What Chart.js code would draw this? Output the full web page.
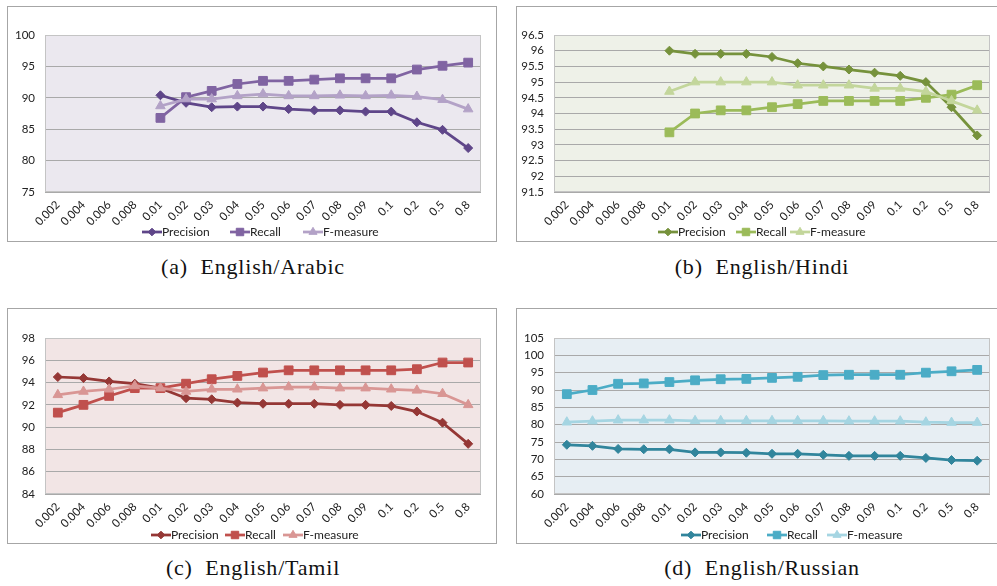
<!DOCTYPE html>
<html><head><meta charset="utf-8">
<script src="https://cdn.jsdelivr.net/npm/chart.js@4/dist/chart.umd.min.js"></script>
<style>
html,body{margin:0;padding:0;background:#fff;width:997px;height:586px;overflow:hidden;position:relative}
.frame{position:absolute;border:1px solid #a6a6a6;box-sizing:border-box;width:490px;height:236px;background:#fff}
.cw{position:absolute;width:488px;height:241px}
.cap{position:absolute;width:400px;text-align:center;font-family:"Liberation Serif","Times New Roman",serif;font-size:22px;letter-spacing:0.8px;color:#111;line-height:22px;white-space:pre}
</style></head><body>
<div class="frame" style="left:7px;top:6px"></div>
<div class="frame" style="left:516px;top:6px"></div>
<div class="frame" style="left:7px;top:308px"></div>
<div class="frame" style="left:516px;top:308px"></div>
<div class="cw" style="left:8px;top:7px"><canvas id="ca"></canvas></div>
<div class="cw" style="left:517px;top:7px"><canvas id="cb"></canvas></div>
<div class="cw" style="left:8px;top:309px"><canvas id="cc"></canvas></div>
<div class="cw" style="left:517px;top:309px"><canvas id="cd"></canvas></div>
<div class="cap" style="left:53px;top:256px">(a)  English/Arabic</div>
<div class="cap" style="left:562px;top:256px">(b)  English/Hindi</div>
<div class="cap" style="left:53px;top:557px">(c)  English/Tamil</div>
<div class="cap" style="left:562px;top:557px">(d)  English/Russian</div>
<script>
const categories = ["0.002","0.004","0.006","0.008","0.01","0.02","0.03","0.04","0.05","0.06","0.07","0.08","0.09","0.1","0.2","0.5","0.8"];
const seriesNames = ["Precision","Recall","F-measure"];

const arabicPrecision = [null,null,null,null,90.4,89.2,88.5,88.6,88.6,88.2,88.0,88.0,87.8,87.8,86.1,84.9,82.0];
const arabicRecall    = [null,null,null,null,86.8,90.1,91.1,92.2,92.7,92.7,92.9,93.1,93.1,93.1,94.5,95.1,95.6];
const arabicF         = [null,null,null,null,88.7,89.8,89.8,90.3,90.6,90.3,90.3,90.4,90.3,90.4,90.2,89.7,88.2];

const hindiPrecision = [null,null,null,null,96.0,95.9,95.9,95.9,95.8,95.6,95.5,95.4,95.3,95.2,95.0,94.2,93.3];
const hindiRecall    = [null,null,null,null,93.4,94.0,94.1,94.1,94.2,94.3,94.4,94.4,94.4,94.4,94.5,94.6,94.9];
const hindiF         = [null,null,null,null,94.7,95.0,95.0,95.0,95.0,94.9,94.9,94.9,94.8,94.8,94.7,94.4,94.1];

const tamilPrecision = [94.5,94.4,94.1,93.9,93.5,92.6,92.5,92.2,92.1,92.1,92.1,92.0,92.0,91.9,91.4,90.4,88.5];
const tamilRecall    = [91.3,92.0,92.8,93.5,93.5,93.9,94.3,94.6,94.9,95.1,95.1,95.1,95.1,95.1,95.2,95.8,95.8];
const tamilF         = [92.9,93.2,93.4,93.7,93.5,93.2,93.4,93.4,93.5,93.6,93.6,93.5,93.5,93.4,93.3,93.0,92.0];

const russianPrecision = [74.2,73.9,73.0,72.9,72.9,72.0,72.0,71.9,71.6,71.6,71.3,71.0,71.0,71.0,70.4,69.8,69.6];
const russianRecall    = [88.8,90.0,91.8,91.9,92.3,92.8,93.1,93.2,93.5,93.8,94.3,94.4,94.4,94.4,95.0,95.4,95.8];
const russianF         = [80.7,81.0,81.3,81.3,81.3,81.1,81.1,81.1,81.1,81.1,81.1,81.0,81.0,81.0,80.7,80.6,80.6];

const arabicTicks  = {min:75, max:100, step:5};
const hindiTicks   = {min:91.5, max:96.5, step:0.5};
const tamilTicks   = {min:84, max:98, step:2};
const russianTicks = {min:60, max:105, step:5};

const styles = ['rectRot','rect','triangle'];
const radii = [4.5, 6.2, 5.5];

const plotBg = {
  id:'plotBg',
  beforeDraw(chart, args, opts){
    const {ctx, chartArea:a} = chart;
    ctx.save(); ctx.fillStyle = opts.color; ctx.fillRect(a.left, a.top, a.width, a.height); ctx.restore();
  },
  beforeDatasetsDraw(chart){
    const {ctx, chartArea:a} = chart;
    ctx.save(); ctx.strokeStyle = '#c4c4c4'; ctx.lineWidth = 1;
    ctx.strokeRect(Math.round(a.left)+0.5, Math.round(a.top)+0.5, Math.round(a.width)-1, Math.round(a.height)-1);
    ctx.restore();
  }
};

function drawIcon(ctx, color, style, r, x, y){
  ctx.save();
  ctx.strokeStyle = color; ctx.lineWidth = 2.75;
  ctx.beginPath(); ctx.moveTo(x, y); ctx.lineTo(x + 20, y); ctx.stroke();
  ctx.fillStyle = color; ctx.lineWidth = 1;
  Chart.helpers.drawPoint(ctx, {pointStyle: style, radius: r * 0.85, rotation: 0, borderWidth: 1}, x + 10, y);
  ctx.restore();
}

const customLegend = {
  id:'customLegend',
  afterDraw(chart, args, opts){
    const ctx = chart.ctx;
    ctx.save();
    ctx.font = '12px Lato';
    ctx.textBaseline = 'middle';
    ctx.textAlign = 'left';
    chart.data.datasets.forEach((ds, i) => {
      const x = opts.xs[i];
      drawIcon(ctx, ds.borderColor, styles[i], radii[i], x, opts.y);
      ctx.fillStyle = '#222';
      ctx.fillText(ds.label, x + 20, opts.y + 0.5);
    });
    ctx.restore();
  }
};

function makeChart(id, data, colors, bg, ticks, topPad, legendXs, legendY){
  return new Chart(document.getElementById(id), {
    type:'line',
    data:{
      labels: categories,
      datasets: data.map((d,i)=>({
        label: seriesNames[i], data: d,
        borderColor: colors[i], backgroundColor: colors[i],
        borderWidth: 2.75, pointStyle: styles[i], pointRadius: radii[i],
        pointBorderWidth: 1, pointBorderColor: colors[i], pointBackgroundColor: colors[i],
        tension: 0, spanGaps: false, order: 3 - i
      }))
    },
    options:{
      responsive:true, maintainAspectRatio:false, animation:false,
      layout:{padding:{top:topPad, right:15, left:0, bottom:0}},
      plugins:{
        plotBg:{color:bg},
        customLegend:{xs:legendXs, y:legendY},
        tooltip:{enabled:false},
        legend:{display:false}
      },
      scales:{
        x:{
          offset:true,
          grid:{display:false, drawTicks:false},
          border:{display:false},
          ticks:{minRotation:45, maxRotation:45, autoSkip:false, font:{family:'Lato', size:11.5}, color:'#222', padding:6},
          afterFit(s){ s.height = 56; }
        },
        y:{
          min:ticks.min, max:ticks.max,
          grid:{color:'#a9a9a9', lineWidth:1, drawTicks:false},
          border:{display:false},
          ticks:{stepSize:ticks.step, autoSkip:false, font:{family:'Lato', size:11.5}, color:'#222', padding:10,
                 callback:(v)=>String(Math.round(v*10)/10)},
          afterFit(s){ s.width = 37; }
        }
      }
    },
    plugins:[plotBg, customLegend]
  });
}

makeChart('ca', [arabicPrecision, arabicRecall, arabicF], ['#5f4689','#8064a2','#b3a2c7'], '#ebe8ef', arabicTicks, 28, [134,222,295], 225);
makeChart('cb', [hindiPrecision, hindiRecall, hindiF], ['#76923c','#9bbb59','#c3d69b'], '#eef1e8', hindiTicks, 28, [141,219,273], 225);
makeChart('cc', [tamilPrecision, tamilRecall, tamilF], ['#953735','#c0504d','#d99694'], '#f2e5e5', tamilTicks, 29, [143,217,275], 226);
makeChart('cd', [russianPrecision, russianRecall, russianF], ['#31859c','#4bacc6','#a5d5e2'], '#e7eef3', russianTicks, 29, [164,250,310], 226);
</script>
</body></html>
